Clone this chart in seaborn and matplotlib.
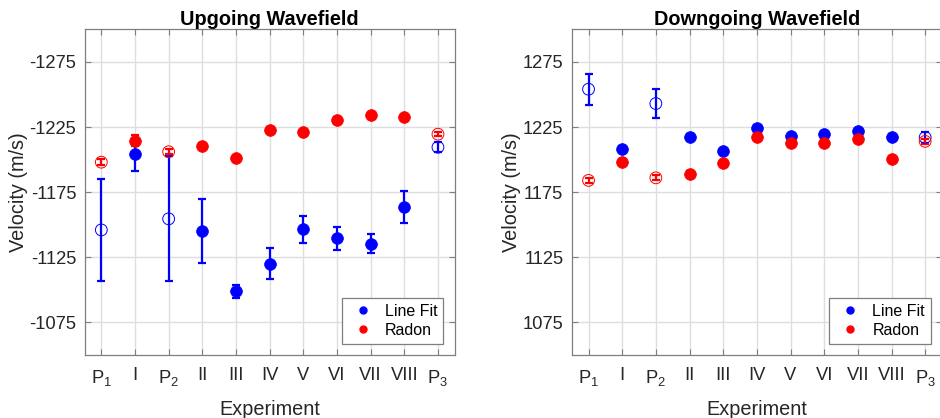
import matplotlib
matplotlib.use("Agg")
import matplotlib.pyplot as plt
from matplotlib.lines import Line2D
import numpy as np
import pandas as pd
import seaborn as sns

# Experiments (P = reference profiles, roman numerals = test runs)
experiments = ["$\\mathregular{P_1}$", "I", "$\\mathregular{P_2}$", "II", "III", "IV",
               "V", "VI", "VII", "VIII", "$\\mathregular{P_3}$"]
is_profile = [True, False, True, False, False, False, False, False, False, False, True]

# Upgoing wavefield velocities (m/s) and uncertainties
up_linefit = [-1146, -1204, -1154.5, -1145, -1099, -1120, -1146.5, -1139.5, -1135.5, -1163.5, -1209.5]
up_linefit_err = [39, 12.5, 48, 24.5, 5, 12, 10.5, 9, 7, 12.5, 4]
up_radon = [-1198, -1214.5, -1206, -1210.5, -1201, -1223, -1221, -1230.5, -1234, -1232.5, -1219.5]
up_radon_err = [2.5, 4, 2, 2, 2, 2, 2, 2, 2, 2, 1.5]

# Downgoing wavefield velocities (m/s) and uncertainties
down_linefit = [1254, 1208.5, 1243, 1217.5, 1206.5, 1224.5, 1218, 1220, 1222, 1217.5, 1217]
down_linefit_err = [12, 2, 11, 2, 2, 2, 2, 2, 2, 2, 4.5]
down_radon = [1184, 1198.5, 1186, 1189, 1197, 1217.5, 1212.5, 1212.5, 1215.5, 1200.5, 1214]
down_radon_err = [2, 2, 2, 2, 2, 2, 2, 2, 2, 2, 2]

up_ticks = [-1275, -1225, -1175, -1125, -1075]
down_ticks = [1275, 1225, 1175, 1125, 1075]

BLUE = "#0000ff"
RED = "#ff0000"
SPINE = "#7f7f7f"
TEXT = "#262626"

sns.set_theme(style="whitegrid")
plt.rcParams["font.family"] = ["Liberation Sans", "DejaVu Sans"]
plt.rcParams["mathtext.fontset"] = "custom"
plt.rcParams["mathtext.rm"] = "Liberation Sans"
plt.rcParams["axes.unicode_minus"] = False


def draw_panel(ax, lf, lf_err, rd, rd_err, title):
    df = pd.DataFrame({
        "experiment": experiments,
        "profile": is_profile,
        "linefit": lf, "linefit_err": lf_err,
        "radon": rd, "radon_err": rd_err,
    })
    for col, color in (("linefit", BLUE), ("radon", RED)):
        ax.errorbar(df["experiment"], df[col], yerr=df[col + "_err"], fmt="none",
                    ecolor=color, elinewidth=1.6, capsize=2.8, capthick=1.6, zorder=3)
        filled = df[~df["profile"]]
        hollow = df[df["profile"]]
        sns.scatterplot(data=filled, x="experiment", y=col, ax=ax, color=color,
                        s=72, edgecolor=color, linewidth=0.5, zorder=4, legend=False)
        sns.scatterplot(data=hollow, x="experiment", y=col, ax=ax, s=72,
                        facecolors="none", edgecolor=color, linewidth=0.7,
                        zorder=4, legend=False)

    ax.set_xlim(-0.5, len(experiments) - 0.5)
    ax.set_title(title, fontsize=14.3, fontweight="bold", color="black", pad=3)
    ax.set_xlabel("Experiment", fontsize=14.3, color=TEXT, labelpad=9)
    ax.set_ylabel("Velocity (m/s)", fontsize=14.3, color=TEXT, labelpad=1)
    ax.set_facecolor("white")
    ax.grid(True, color="#dedede", linewidth=1.0)
    ax.tick_params(axis="both", which="both", direction="in", length=4, width=0.8,
                   colors=SPINE, labelcolor=TEXT, labelsize=13.2, top=True, right=True,
                   bottom=True, left=True, pad=6)
    ax.tick_params(axis="x", pad=9)
    for sp in ax.spines.values():
        sp.set_visible(True)
        sp.set_color(SPINE)
        sp.set_linewidth(0.9)

    handles = [Line2D([], [], marker="o", linestyle="none", color=BLUE, markersize=5),
               Line2D([], [], marker="o", linestyle="none", color=RED, markersize=5)]
    leg = ax.legend(handles, ["Line Fit", "Radon"], loc="lower right", fontsize=11.5,
                    frameon=True, fancybox=False, edgecolor=SPINE, framealpha=1,
                    borderaxespad=0.72, handletextpad=0.45, borderpad=0.35,
                    labelspacing=0.25, handlelength=1.9)
    leg.get_frame().set_linewidth(0.9)
    for t in leg.get_texts():
        t.set_color("black")


fig = plt.figure(figsize=(9.4, 4.18), dpi=100)
bottom = (418 - 355) / 418
height = (355 - 29.3) / 418
ax1 = fig.add_axes([84.5 / 940, bottom, 370.3 / 940, height])
ax2 = fig.add_axes([571.7 / 940, bottom, 370.3 / 940, height])

draw_panel(ax1, up_linefit, up_linefit_err, up_radon, up_radon_err, "Upgoing Wavefield")
ax1.set_yticks(up_ticks)
ax1.set_ylim(-1050, -1300)

draw_panel(ax2, down_linefit, down_linefit_err, down_radon, down_radon_err, "Downgoing Wavefield")
ax2.set_yticks(down_ticks)
ax2.set_ylim(1050, 1300)

fig.savefig("out.png", dpi=100, facecolor="white")
